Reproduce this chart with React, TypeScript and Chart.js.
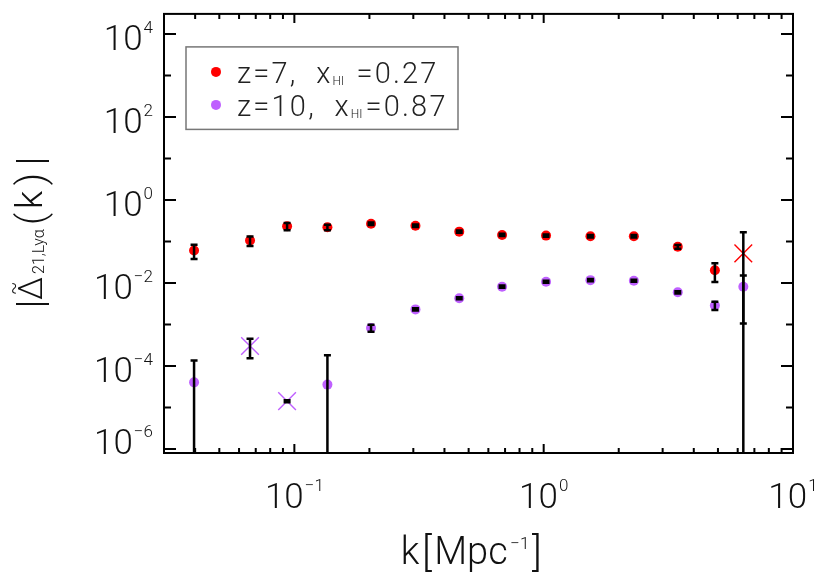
import { useEffect, useRef } from "react"
import { Chart, registerables } from "chart.js"

Chart.register(...registerables)

// k in Mpc^-1, shared by both redshifts
const kValues = [0.0396, 0.0664, 0.0935, 0.1357, 0.203, 0.306, 0.4585, 0.681, 1.022, 1.54, 2.3, 3.45, 4.86, 6.32]

// signed values; negative ones are drawn as |value| with a cross
const z7Delta = [0.0608, 0.1053, 0.232, 0.2198, 0.268, 0.24, 0.1726, 0.144, 0.1386, 0.134, 0.134, 0.0745, 0.0203, -0.0516]
const z7Sigma = [0.023, 0.027, 0.046, 0.034, 0.018, 0.016, 0.011, 0.009, 0.009, 0.009, 0.009, 0.008, 0.0098, 0.116]

const z10Delta = [4.03e-5, -3.03e-4, -1.42e-5, 3.56e-5, 8.26e-4, 2.31e-3, 4.29e-3, 8.15e-3, 1.073e-2, 1.172e-2, 1.134e-2, 5.96e-3, 2.87e-3, 8.15e-3]
const z10Sigma = [9.5e-5, 1.5e-4, 8e-7, 1.45e-4, 1.6e-4, 1.4e-4, 2.6e-4, 4.9e-4, 6.4e-4, 7e-4, 6.8e-4, 3.6e-4, 6.4e-4, 7.1e-3]

const legendZ = ["7", "10"]
const legendTail = [" =0.27", "=0.87"]

const xMajorTicks = [0.1, 1, 10]
const xTickExponents = ["−1", "0", "1"]
const xMinorTicks = [0.03, 0.04, 0.05, 0.06, 0.07, 0.08, 0.09, 0.2, 0.3, 0.4, 0.5, 0.6, 0.7, 0.8, 0.9, 2, 3, 4, 5, 6, 7, 8, 9]
const yMajorTicks = [1e4, 1e2, 1, 1e-2, 1e-4, 1e-6]
const yTickExponents = ["4", "2", "0", "−2", "−4", "−6"]
const yMinorTicks = [1e3, 1e1, 1e-1, 1e-3, 1e-5]

const RED = "#ff0000"
const PURPLE = "#bf60ff"
const FONT = "'Roboto Light', Roboto, sans-serif"

const font = (size: number) => `300 ${size}px ${FONT}`

function drawPower(ctx: CanvasRenderingContext2D, x: number, baseline: number, exp: string, align: "center" | "right") {
  ctx.font = font(35)
  const wBase = ctx.measureText("10").width
  ctx.font = font(17)
  const wExp = ctx.measureText(exp).width
  const gap = 1
  const total = wBase + gap + wExp
  const left = align === "center" ? x - total / 2 : x - total
  ctx.textAlign = "left"
  ctx.textBaseline = "alphabetic"
  ctx.font = font(35)
  ctx.fillText("10", left, baseline)
  ctx.font = font(17)
  ctx.fillText(exp, left + wBase + gap, baseline - 17)
}

const decorations = {
  id: "decorations",
  afterDatasetsDraw(chart: Chart) {
    const ctx = chart.ctx
    const { left, right, top, bottom } = chart.chartArea
    const xs = chart.scales.x
    const ys = chart.scales.y

    // error bars on top of the markers
    ctx.save()
    ctx.beginPath()
    ctx.rect(left, top, right - left, bottom - top)
    ctx.clip()
    ctx.strokeStyle = "#000"
    ctx.lineWidth = 2.5
    const series = [
      [z7Delta, z7Sigma],
      [z10Delta, z10Sigma],
    ]
    series.forEach(([vals, sig]) => {
      vals.forEach((v, i) => {
        const a = Math.abs(v)
        const px = xs.getPixelForValue(kValues[i])
        const hi = ys.getPixelForValue(a + sig[i])
        const loVal = a - sig[i]
        const lo = loVal > 0 ? ys.getPixelForValue(loVal) : bottom + 2
        ctx.beginPath()
        ctx.moveTo(px, hi)
        ctx.lineTo(px, Math.min(lo, bottom + 2))
        ctx.moveTo(px - 3.5, hi)
        ctx.lineTo(px + 3.5, hi)
        if (loVal > 0 && lo < bottom) {
          ctx.moveTo(px - 3.5, lo)
          ctx.lineTo(px + 3.5, lo)
        }
        ctx.stroke()
      })
    })
    ctx.restore()
  },
  afterDraw(chart: Chart) {
    const ctx = chart.ctx
    const { left, right, top, bottom } = chart.chartArea
    const xs = chart.scales.x
    const ys = chart.scales.y
    ctx.save()
    ctx.strokeStyle = "#000"
    ctx.fillStyle = "#111"

    // ticks on all four sides, pointing inwards
    ctx.lineWidth = 2
    ctx.beginPath()
    const xTick = (v: number, len: number) => {
      const px = xs.getPixelForValue(v)
      ctx.moveTo(px, bottom)
      ctx.lineTo(px, bottom - len)
      ctx.moveTo(px, top)
      ctx.lineTo(px, top + len)
    }
    const yTick = (v: number, len: number) => {
      const py = ys.getPixelForValue(v)
      ctx.moveTo(left, py)
      ctx.lineTo(left + len, py)
      ctx.moveTo(right, py)
      ctx.lineTo(right - len, py)
    }
    xMajorTicks.forEach((v) => xTick(v, 9))
    xMinorTicks.forEach((v) => xTick(v, 5))
    yMajorTicks.forEach((v) => yTick(v, 12))
    yMinorTicks.forEach((v) => yTick(v, 7))
    ctx.stroke()

    ctx.lineWidth = 2
    ctx.strokeRect(left, top, right - left, bottom - top)

    // tick labels
    xMajorTicks.forEach((v, i) => {
      drawPower(ctx, xs.getPixelForValue(v), bottom + 55, xTickExponents[i], "center")
    })
    yMajorTicks.forEach((v, i) => {
      const base = Math.min(ys.getPixelForValue(v) + 16.5, bottom + 1)
      drawPower(ctx, left - 11, base, yTickExponents[i], "right")
    })

    // x title: k[Mpc^-1]
    ctx.textAlign = "left"
    ctx.textBaseline = "alphabetic"
    const xParts: [string, number, number][] = [
      ["k", 38, 0],
      ["[", 41, 2],
      ["Mpc", 38, 0],
      ["−1", 17, -15],
      ["]", 41, 2],
    ]
    const gapX = 2.5
    let tw = 0
    xParts.forEach(([t, s]) => {
      ctx.font = font(s)
      tw += ctx.measureText(t).width + gapX
    })
    let cx = (left + right) / 2 - 6 - tw / 2
    xParts.forEach(([t, s, dy]) => {
      ctx.font = font(s)
      ctx.fillText(t, cx, bottom + 111 + dy)
      cx += ctx.measureText(t).width + gapX
    })

    // y title, rotated
    const cy = (top + bottom) / 2
    ctx.save()
    ctx.translate(42, cy)
    ctx.rotate(-Math.PI / 2)
    ctx.textAlign = "center"
    ctx.font = font(38)
    ctx.fillText("|", cy - 304, 2)
    ctx.fillText("(", cy - 219, 2)
    ctx.fillText(")", cy - 179, 2)
    ctx.fillText("|", cy - 161, 2)
    ctx.font = font(33)
    ctx.fillText("Δ", cy - 288.5, 0)
    ctx.font = font(37)
    ctx.fillText("k", cy - 200, 0)
    ctx.font = font(20)
    ctx.fillText("~", cy - 288.5, -22)
    ctx.textAlign = "left"
    ctx.font = font(16)
    ctx.fillText("21,Lyα", cy - 274, 2)
    ctx.restore()

    // legend
    const lx = left + 22
    const ly = top + 33
    ctx.strokeStyle = "#777"
    ctx.lineWidth = 1.5
    ctx.strokeRect(lx, ly, 272, 82.5)
    const colors = [RED, PURPLE]
    legendZ.forEach((z, i) => {
      const base = ly + 36 + i * 33
      ctx.fillStyle = colors[i]
      ctx.beginPath()
      ctx.arc(lx + 30, base - 11, 5, 0, Math.PI * 2)
      ctx.fill()
      ctx.fillStyle = "#222"
      ctx.textAlign = "left"
      ;(ctx as any).letterSpacing = "2.2px"
      ctx.font = font(29)
      let tx = lx + 51
      const head = `z=${z},  x`
      ctx.fillText(head, tx, base)
      tx += ctx.measureText(head).width
      ctx.font = font(12)
      ;(ctx as any).letterSpacing = "0px"
      ctx.fillText("HI", tx, base + 2)
      tx += ctx.measureText("HI").width + 3
      ctx.font = font(29)
      ;(ctx as any).letterSpacing = "2.2px"
      ctx.fillText(legendTail[i], tx, base)
      ;(ctx as any).letterSpacing = "0px"
    })
    ctx.restore()
  },
}

export default function App() {
  const chartRef = useRef<HTMLCanvasElement>(null)
  const chartInstance = useRef<Chart | null>(null)

  useEffect(() => {
    if (!chartRef.current) return
    const ctx = chartRef.current.getContext("2d")
    if (!ctx) return
    if (chartInstance.current) chartInstance.current.destroy()

    const makeSet = (label: string, vals: number[], color: string) => ({
      label,
      data: vals.map((v, i) => ({ x: kValues[i], y: Math.abs(v) })),
      showLine: false,
      pointStyle: (c: any) => (vals[c.dataIndex] < 0 ? "crossRot" : "circle"),
      pointRadius: (c: any) => (vals[c.dataIndex] < 0 ? 12.5 : 5),
      pointBorderWidth: (c: any) => (vals[c.dataIndex] < 0 ? 1.4 : 0),
      pointBackgroundColor: color,
      pointBorderColor: color,
    })

    chartInstance.current = new Chart(ctx, {
      type: "scatter",
      data: {
        datasets: [makeSet("z=7", z7Delta, RED), makeSet("z=10", z10Delta, PURPLE)],
      },
      options: {
        responsive: true,
        maintainAspectRatio: false,
        animation: false,
        events: [],
        layout: { padding: { left: 164, top: 9, right: 37, bottom: 124 } },
        plugins: { legend: { display: false }, tooltip: { enabled: false } },
        scales: {
          x: { type: "logarithmic", min: 0.03, max: 10, display: false },
          y: { type: "logarithmic", min: 8e-7, max: 3.05e4, display: false },
        },
      },
      plugins: [decorations],
    })

    return () => {
      if (chartInstance.current) {
        chartInstance.current.destroy()
        chartInstance.current = null
      }
    }
  }, [])

  return (
    <div style={{ position: "absolute", left: 0, top: 0, width: 830, height: 577, background: "#fff" }}>
      <canvas ref={chartRef}></canvas>
    </div>
  )
}
